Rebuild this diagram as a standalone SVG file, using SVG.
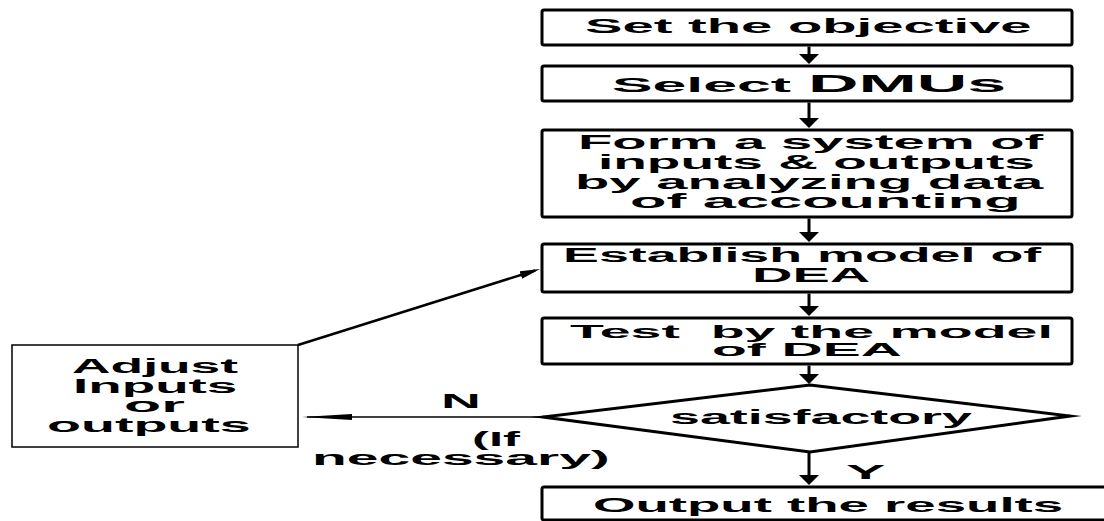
<svg xmlns="http://www.w3.org/2000/svg" width="1104" height="521" viewBox="0 0 1104 521">
<style>
.box{fill:#fff;stroke:#000;stroke-width:3;}
.abox{fill:#fff;stroke:#000;stroke-width:1.5;}
.t{font-family:"Liberation Sans",Arial,sans-serif;font-size:20px;font-weight:bold;fill:#000;}
.s18{font-size:19px;}
.big{font-size:23px;}
.v{fill:none;stroke:#000;stroke-width:3;marker-end:url(#ah);}
</style>
<defs>
<marker id="ah" markerUnits="userSpaceOnUse" markerWidth="10" markerHeight="20" refX="5" refY="10" orient="auto"><path d="M0,0 L10,10 L0,20 Z" fill="#000"/></marker>
<marker id="ad" markerUnits="userSpaceOnUse" markerWidth="20" markerHeight="8" refX="15" refY="4" orient="auto"><path d="M0,0 L20,4 L0,8 Z" fill="#000"/></marker>
<marker id="an" markerUnits="userSpaceOnUse" markerWidth="50" markerHeight="6" refX="45" refY="3" orient="auto"><path d="M0,0 L50,3 L0,6 Z" fill="#000"/></marker>
</defs>
<rect width="1104" height="521" fill="#fff"/>
<g id="connectors">
<path class="v" d="M809,46.5 V59"/>
<path class="v" d="M809,102.5 V123"/>
<path class="v" d="M809,218.5 V237"/>
<path class="v" d="M809,293.5 V311"/>
<path class="v" d="M809,365.5 V379"/>
<path class="v" d="M809,453 V480"/>
<path d="M298,345 L535.2,270.5" fill="none" stroke="#000" stroke-width="2.5" marker-end="url(#ad)"/>
<path d="M543,417 H307" fill="none" stroke="#000" stroke-width="1.5" marker-end="url(#an)"/>
<text class="t" transform="translate(441,408) scale(2.76,1)">N</text>
<text class="t" transform="translate(472,446) scale(2.54,1)">(If</text>
<text class="t" transform="translate(312,465) scale(2.85,1)">necessary)</text>
<text class="t" transform="translate(846,479) scale(2.95,1)">Y</text>
</g>
<g id="n1">
<rect class="box" x="542" y="10" width="530" height="35" rx="2"/>
<text class="t" transform="translate(585,33) scale(2.81,1)">Set the objective</text>
</g>
<g id="n2">
<rect class="box" x="542" y="66" width="530" height="35" rx="2"/>
<text class="t" transform="translate(612,92) scale(3.04,1)">Select <tspan class="big">DMUs</tspan></text>
</g>
<g id="n3">
<rect class="box" x="542" y="130" width="530" height="87" rx="2"/>
<text class="t" transform="translate(578,149) scale(2.81,1)">Form a system of</text>
<text class="t" transform="translate(598,169) scale(2.75,1)">inputs &amp; outputs</text>
<text class="t" transform="translate(575,189) scale(2.81,1)">by analyzing data</text>
<text class="t" transform="translate(630,208) scale(2.98,1)">of accounting</text>
</g>
<g id="n4">
<rect class="box" x="542" y="244" width="530" height="48" rx="2"/>
<text class="t" transform="translate(563,262) scale(2.69,1)">Establish model of</text>
<text class="t" transform="translate(752,282) scale(2.8,1)">DEA</text>
</g>
<g id="n5">
<rect class="box" x="542" y="318" width="530" height="46" rx="2"/>
<text class="t s18" xml:space="preserve" transform="translate(570,338) scale(2.92,1)">Test  by the model</text>
<text class="t s18" transform="translate(712,356) scale(3.0,1)">of DEA</text>
</g>
<g id="n6">
<polygon points="810,385 1070,416 810,452 543,417" fill="#fff" stroke="#000" stroke-width="3" stroke-linejoin="miter" stroke-miterlimit="20"/>
<text class="t" transform="translate(670,424) scale(2.69,1)">satisfactory</text>
</g>
<g id="n7">
<rect class="box" x="542" y="487" width="600" height="33" rx="2"/>
<text class="t" transform="translate(593,512) scale(2.73,1)">Output the results</text>
</g>
<g id="n8">
<rect class="abox" x="12" y="345" width="286" height="102"/>
<text class="t" transform="translate(72,373) scale(2.67,1)">Adjust</text>
<text class="t" transform="translate(73,393) scale(2.74,1)">Inputs</text>
<text class="t" transform="translate(124,412) scale(3.04,1)">or</text>
<text class="t" transform="translate(47,432) scale(2.78,1)">outputs</text>
</g>
</svg>
